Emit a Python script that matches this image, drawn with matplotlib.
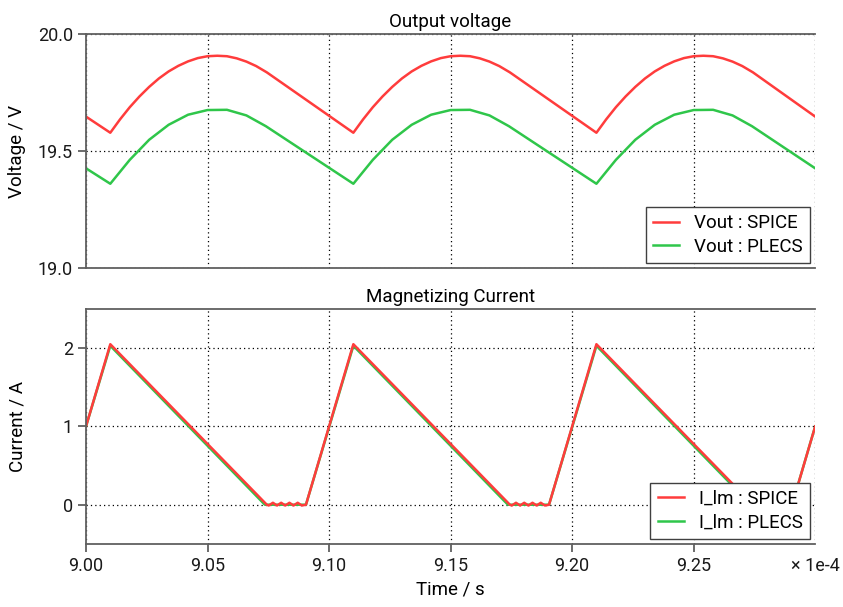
import matplotlib
matplotlib.use("Agg")
import matplotlib.pyplot as plt

plt.rcParams['font.family'] = ['Roboto', 'DejaVu Sans']

# time axis in units of 1e-4 s
vout_spice_t = [
    9.000, 9.010, 9.014, 9.018, 9.022, 9.026, 9.030, 9.034, 9.038, 9.042, 9.046, 9.050,
    9.054, 9.058, 9.062, 9.066, 9.070, 9.0744,
    9.110, 9.114, 9.118, 9.122, 9.126, 9.130, 9.134, 9.138, 9.142, 9.146, 9.150,
    9.154, 9.158, 9.162, 9.166, 9.170, 9.1744,
    9.210, 9.214, 9.218, 9.222, 9.226, 9.230, 9.234, 9.238, 9.242, 9.246, 9.250,
    9.254, 9.258, 9.262, 9.266, 9.270, 9.2744,
    9.300]
vout_spice = [
    19.647, 19.578, 19.635, 19.687, 19.733, 19.774, 19.810, 19.840, 19.864, 19.883, 19.897, 19.905,
    19.907, 19.905, 19.896, 19.882, 19.863, 19.836,
    19.578, 19.635, 19.687, 19.733, 19.774, 19.810, 19.840, 19.864, 19.883, 19.897, 19.905,
    19.907, 19.905, 19.896, 19.882, 19.863, 19.836,
    19.578, 19.635, 19.687, 19.733, 19.774, 19.810, 19.840, 19.864, 19.883, 19.897, 19.905,
    19.907, 19.905, 19.896, 19.882, 19.863, 19.836,
    19.647]

vout_plecs_t = [
    9.000, 9.010, 9.018, 9.026, 9.034, 9.042, 9.050, 9.058, 9.066, 9.074,
    9.110, 9.118, 9.126, 9.134, 9.142, 9.150, 9.158, 9.166, 9.174,
    9.210, 9.218, 9.226, 9.234, 9.242, 9.250, 9.258, 9.266, 9.274,
    9.300]
vout_plecs = [
    19.426, 19.360, 19.462, 19.548, 19.612, 19.655, 19.675, 19.676, 19.652, 19.606,
    19.360, 19.462, 19.548, 19.612, 19.655, 19.675, 19.676, 19.652, 19.606,
    19.360, 19.462, 19.548, 19.612, 19.655, 19.675, 19.676, 19.652, 19.606,
    19.426]

ilm_spice_t = [
    9.000, 9.010, 9.0744, 9.0752, 9.0769, 9.0786, 9.0803, 9.0820, 9.0837, 9.0854, 9.0871, 9.0888, 9.0905,
    9.110, 9.1744, 9.1752, 9.1769, 9.1786, 9.1803, 9.1820, 9.1837, 9.1854, 9.1871, 9.1888, 9.1905,
    9.210, 9.2744, 9.2752, 9.2769, 9.2786, 9.2803, 9.2820, 9.2837, 9.2854, 9.2871, 9.2888, 9.2905,
    9.300]
ilm_spice = [
    1.00, 2.05, 0.00, -0.01, 0.025, -0.01, 0.025, -0.01, 0.025, -0.01, 0.025, -0.01, 0.00,
    2.05, 0.00, -0.01, 0.025, -0.01, 0.025, -0.01, 0.025, -0.01, 0.025, -0.01, 0.00,
    2.05, 0.00, -0.01, 0.025, -0.01, 0.025, -0.01, 0.025, -0.01, 0.025, -0.01, 0.00,
    1.00]

ilm_plecs_t = [9.000, 9.010, 9.0736, 9.0905, 9.110, 9.1736, 9.1905, 9.210, 9.2736, 9.2905, 9.300]
ilm_plecs = [1.00, 2.03, 0.00, 0.00, 2.03, 0.00, 0.00, 2.03, 0.00, 0.00, 1.00]

x_ticks = [9.00, 9.05, 9.10, 9.15, 9.20, 9.25, 9.30]
x_ticklabels = ['9.00', '9.05', '9.10', '9.15', '9.20', '9.25', '\u00d7 1e-4']

red = '#ff3c3c'
green = '#2fc64a'
spine_c = '#606060'
fs = 13.5

fig = plt.figure(figsize=(8.43, 6.07), dpi=100)
ax1 = fig.add_axes([0.102, 0.5585, 0.865, 0.3855])
ax2 = fig.add_axes([0.102, 0.104, 0.865, 0.387])


def style(ax):
    for s in ['left', 'bottom', 'top']:
        ax.spines[s].set_color(spine_c)
        ax.spines[s].set_linewidth(1.3)
    ax.spines['right'].set_visible(False)
    ax.grid(True, color='black', linestyle=(0, (1, 2.5)), linewidth=0.9)
    ax.tick_params(axis='both', colors=spine_c, labelcolor='#1a1a1a', labelsize=13,
                   length=6, width=1.3, direction='out')
    ax.set_xlim(9.00, 9.30)
    ax.set_xticks(x_ticks)
    ax.yaxis.set_label_coords(-0.082, 0.5)


style(ax1)
ax1.plot(vout_plecs_t, vout_plecs, color=green, lw=1.8, label='Vout : PLECS')
ax1.plot(vout_spice_t, vout_spice, color=red, lw=1.8, label='Vout : SPICE')
ax1.set_ylim(19.0, 20.0)
ax1.set_yticks([19.0, 19.5, 20.0])
ax1.set_yticklabels(['19.0', '19.5', '20.0'])
ax1.tick_params(axis='x', bottom=False, labelbottom=False)
ax1.set_ylabel('Voltage / V', fontsize=fs)
ax1.set_title('Output voltage', fontsize=fs, pad=5)
h, l = ax1.get_legend_handles_labels()
leg = ax1.legend(h[::-1], l[::-1], loc='lower right', fontsize=fs, fancybox=False,
                 framealpha=1, edgecolor='#404040', handlelength=1.4,
                 borderaxespad=0.25, borderpad=0.4, labelspacing=0.3)
leg.get_frame().set_linewidth(1.0)

style(ax2)
ax2.plot(ilm_plecs_t, ilm_plecs, color=green, lw=1.8, label='I_lm : PLECS')
ax2.plot(ilm_spice_t, ilm_spice, color=red, lw=1.8, label='I_lm : SPICE')
ax2.set_ylim(-0.5, 2.5)
ax2.set_yticks([0, 1, 2])
ax2.set_xticklabels(x_ticklabels)
ax2.xaxis.get_major_ticks()[-1].tick1line.set_visible(False)
ax2.set_ylabel('Current / A', fontsize=fs)
ax2.set_xlabel('Time / s', fontsize=fs, labelpad=4)
ax2.set_title('Magnetizing Current', fontsize=fs, pad=5)
h, l = ax2.get_legend_handles_labels()
leg = ax2.legend(h[::-1], l[::-1], loc='lower right', fontsize=fs, fancybox=False,
                 framealpha=1, edgecolor='#404040', handlelength=1.4,
                 borderaxespad=0.25, borderpad=0.4, labelspacing=0.3)
leg.get_frame().set_linewidth(1.0)

fig.savefig('out.png', dpi=100)
